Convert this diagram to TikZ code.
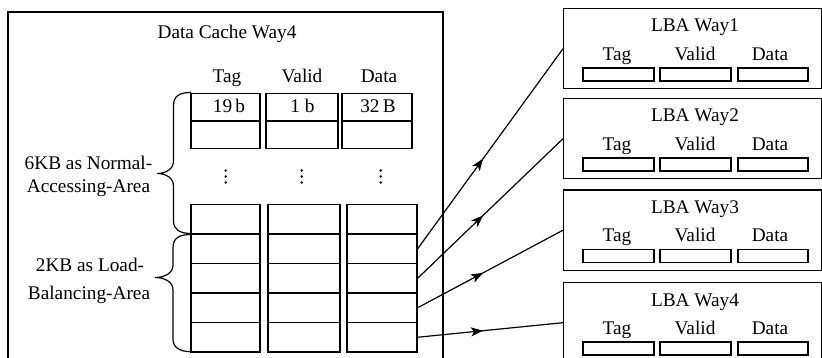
\documentclass[tikz,border=0pt]{standalone}
\usepackage{fontspec}
\setmainfont{Liberation Serif}
\usetikzlibrary{arrows.meta,decorations.markings,fit}
\begin{document}
\begin{tikzpicture}[x=1pt,y=-1pt,line width=1.3pt,
  txt/.style={font=\fontsize{19.3}{23}\selectfont,inner sep=0pt,anchor=base},
  cellbox/.style={draw,inner sep=0pt,line width=1.3pt},
  lbabox/.style={draw,inner sep=0pt,minimum width=258pt,minimum height=80pt,line width=1.4pt},
  slot/.style={draw,inner sep=0pt,line width=1.2pt},
  midarrow/.style={line width=1.2pt,postaction={decorate},
    decoration={markings,mark=at position 0.45 with {\arrow{Stealth[length=12pt,width=9pt,inset=3pt]}}}},
  vdot/.style={fill,radius=1.3pt}]
\useasboundingbox (0,0) rectangle (822,358);
\clip (0,0) rectangle (822,358);

% data cache way outline (runs past the lower edge)
\draw[line width=1.4pt] (8,358) -- (8,12) -- (443,12) -- (443,358);
\node[txt] (dcw) at (227,38.5) {Data Cache Way4};

% column headers
\node[txt] (hTag) at (227,82.5) {Tag};
\node[txt] (hValid) at (302,82.5) {Valid};
\node[txt] (hData) at (379,82.5) {Data};

% normal-accessing area: first two lines
\node[cellbox,fit={(191,93.5) (260,121)}] (tg1) {};
\node[cellbox,fit={(191,121) (260,148.5)}] (tg2) {};
\node[cellbox,fit={(266,93.5) (338,121)}] (vl1) {};
\node[cellbox,fit={(266,121) (338,148.5)}] (vl2) {};
\node[cellbox,fit={(342,93.5) (412,121)}] (dt1) {};
\node[cellbox,fit={(342,121) (412,148.5)}] (dt2) {};
\node[txt] (wTag) at (229,113) {19\,b};
\node[txt] (wValid) at (302.5,113) {1 b};
\node[txt] (wData) at (378,113) {32\,B};

% vertical ellipses
\foreach \x in {225.7,301.7,380.7}
  \foreach \y in {170.5,176.5,182.5}
    \fill (\x,\y) circle[radius=1.3pt];

% last line of normal area + load-balancing lines
\foreach \r/\ya/\yb in {1/204.5/234, 2/234/263.5, 3/263.5/293, 4/293/322.5, 5/322.5/352} {
  \node[cellbox,fit={(191,\ya) (260,\yb)}] (lt\r) {};
  \node[cellbox,fit={(268,\ya) (340,\yb)}] (lv\r) {};
  \node[cellbox,fit={(347,\ya) (417,\yb)}] (ld\r) {};
}

% braces
\draw[line width=1.2pt] (191,92.5) .. controls (179,92.5) and (173.5,96) .. (173.5,106)
  -- (173.5,161) .. controls (173.5,169) and (166,173.5) .. (157,173.5)
  .. controls (166,173.5) and (173.5,178) .. (173.5,186)
  -- (173.5,221) .. controls (173.5,229) and (179,233.5) .. (191,233.5);
\draw[line width=1.2pt] (191,234.5) .. controls (179,234.5) and (173,238) .. (173,248)
  -- (173,265) .. controls (173,273) and (165,277.5) .. (155,277.5)
  .. controls (165,277.5) and (173,282) .. (173,290)
  -- (173,339) .. controls (173,347) and (179,351.7) .. (191,351.7);

% brace labels
\node[txt] (nA) at (88.5,169.5) {6KB as Normal-};
\node[txt] (nB) at (88.5,192.3) {Accessing-Area};
\node[txt] (lA) at (90,272) {2KB as Load-};
\node[txt] (lB) at (89,299.5) {Balancing-Area};

% load-balancing ways
\foreach \i/\t in {1/8,2/98,3/189.5,4/282} {
  \node[lbabox,anchor=north west] (lba\i) at (563,\t) {};
  \node[txt] (lbaT\i) at (695,\t+24) {LBA Way\i};
  \node[txt] (lbaTag\i) at (617,\t+52.5) {Tag};
  \node[txt] (lbaValid\i) at (695,\t+52.5) {Valid};
  \node[txt] (lbaData\i) at (770,\t+52.5) {Data};
  \node[slot,fit={(583,\t+60) (654,\t+73)}] (sTag\i) {};
  \node[slot,fit={(660,\t+60) (731,\t+73)}] (sValid\i) {};
  \node[slot,fit={(738,\t+60) (808,\t+73)}] (sData\i) {};
}

% connectors from the load-balancing lines
\draw[midarrow] (ld2.east) -- (lba1.west);
\draw[midarrow] (ld3.east) -- (lba2.west);
\draw[midarrow] (ld4.east) -- (lba3.west);
\draw[midarrow] (ld5.east) -- (lba4.west);
\end{tikzpicture}
\end{document}
